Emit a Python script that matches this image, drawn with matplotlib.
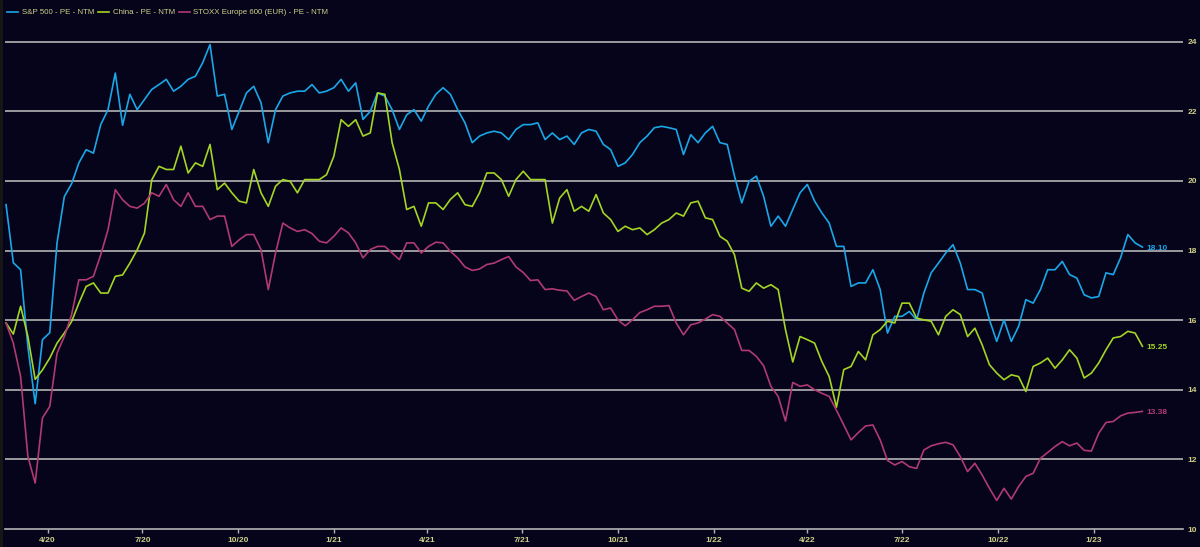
import numpy as np
import pandas as pd
import matplotlib
matplotlib.use('Agg')
import matplotlib.pyplot as plt
import matplotlib.dates as mdates
from matplotlib.patches import Rectangle

# weekly P/E (next twelve months)
dates = pd.date_range('2020-02-21', periods=157, freq='7D')

sp500 = [
    19.32, 17.65, 17.45, 15.24, 13.6, 15.44, 15.64, 18.22, 19.55, 19.92,
    20.52, 20.90, 20.80, 21.62, 22.05, 23.1, 21.6, 22.49, 22.05, 22.34,
    22.63, 22.77, 22.92, 22.58, 22.72, 22.92, 23.01, 23.4, 23.92, 22.44,
    22.49, 21.48, 22.0, 22.53, 22.72, 22.25, 21.1, 22.05, 22.44, 22.53,
    22.58, 22.58, 22.77, 22.53, 22.58, 22.68, 22.92, 22.58, 22.82, 21.77,
    22.0, 22.53, 22.44, 22.05, 21.48, 21.9, 22.05, 21.72, 22.15, 22.49,
    22.68, 22.49, 22.05, 21.67, 21.1, 21.29, 21.38, 21.43, 21.38, 21.19,
    21.48, 21.62, 21.62, 21.67, 21.19, 21.38, 21.19, 21.29, 21.05, 21.38,
    21.48, 21.43, 21.05, 20.9, 20.42, 20.52, 20.76, 21.1, 21.29, 21.53,
    21.57, 21.53, 21.48, 20.76, 21.33, 21.1, 21.38, 21.57, 21.1, 21.05,
    20.14, 19.37, 19.99, 20.14, 19.56, 18.7, 18.99, 18.7, 19.18, 19.66,
    19.9, 19.42, 19.08, 18.79, 18.12, 18.12, 16.97, 17.07, 17.07, 17.45,
    16.88, 15.63, 16.11, 16.11, 16.25, 16.01, 16.78, 17.36, 17.64, 17.93,
    18.17, 17.64, 16.88, 16.88, 16.78, 16.01, 15.39, 16.01, 15.39, 15.82,
    16.59, 16.49, 16.88, 17.45, 17.45, 17.69, 17.31, 17.21, 16.73, 16.64,
    16.68, 17.36, 17.31, 17.79, 18.46, 18.22, 18.10,
]

china = [
    15.92, 15.6, 16.4, 15.53, 14.3, 14.57, 14.91, 15.34, 15.63, 15.96,
    16.49, 16.97, 17.07, 16.78, 16.78, 17.26, 17.3, 17.64, 18.02, 18.5,
    20.03, 20.42, 20.33, 20.33, 21.0, 20.23, 20.52, 20.42, 21.05, 19.75,
    19.94, 19.66, 19.42, 19.37, 20.33, 19.66, 19.27, 19.85, 20.04, 19.99,
    19.66, 20.04, 20.04, 20.04, 20.18, 20.71, 21.76, 21.57, 21.76, 21.29,
    21.38, 22.53, 22.49, 21.1, 20.33, 19.18, 19.27, 18.7, 19.37, 19.37,
    19.18, 19.47, 19.66, 19.32, 19.27, 19.66, 20.23, 20.23, 20.04, 19.56,
    20.04, 20.28, 20.04, 20.04, 20.04, 18.79, 19.51, 19.75, 19.13, 19.27,
    19.13, 19.61, 19.08, 18.89, 18.55, 18.7, 18.6, 18.65, 18.46, 18.6,
    18.79, 18.89, 19.08, 18.99, 19.37, 19.42, 18.94, 18.89, 18.41, 18.27,
    17.88, 16.92, 16.83, 17.07, 16.92, 17.02, 16.88, 15.73, 14.8, 15.53,
    15.44, 15.34, 14.81, 14.38, 13.5, 14.58, 14.67, 15.1, 14.86, 15.58,
    15.73, 15.97, 15.92, 16.49, 16.49, 16.06, 16.01, 15.97, 15.58, 16.11,
    16.3, 16.16, 15.53, 15.77, 15.29, 14.72, 14.48, 14.29, 14.43, 14.38,
    13.95, 14.67, 14.77, 14.91, 14.62, 14.86, 15.15, 14.91, 14.34, 14.48,
    14.77, 15.15, 15.49, 15.53, 15.68, 15.63, 15.25,
]

stoxx600 = [
    15.92, 15.34, 14.38, 12.08, 11.32, 13.19, 13.52, 15.05, 15.53, 16.16,
    17.16, 17.16, 17.26, 17.88, 18.6, 19.75, 19.46, 19.27, 19.22, 19.36,
    19.66, 19.56, 19.9, 19.46, 19.27, 19.66, 19.27, 19.27, 18.89, 18.99,
    18.99, 18.12, 18.31, 18.46, 18.46, 18.03, 16.88, 17.93, 18.79, 18.65,
    18.55, 18.6, 18.49, 18.27, 18.22, 18.41, 18.65, 18.51, 18.22, 17.79,
    18.03, 18.12, 18.12, 17.93, 17.74, 18.22, 18.22, 17.93, 18.12, 18.24,
    18.22, 17.98, 17.79, 17.53, 17.43, 17.47, 17.6, 17.64, 17.74, 17.83,
    17.53, 17.37, 17.14, 17.16, 16.88, 16.9, 16.86, 16.84, 16.57, 16.68,
    16.78, 16.68, 16.3, 16.35, 16.01, 15.84, 16.01, 16.22, 16.3, 16.4,
    16.4, 16.42, 15.92, 15.58, 15.87, 15.92, 16.03, 16.16, 16.11, 15.92,
    15.73, 15.13, 15.13, 14.96, 14.69, 14.1, 13.81, 13.1, 14.21, 14.1,
    14.14, 14.0, 13.9, 13.81, 13.41, 12.99, 12.56, 12.77, 12.96, 12.99,
    12.56, 11.97, 11.84, 11.94, 11.79, 11.74, 12.27, 12.39, 12.45, 12.49,
    12.42, 12.08, 11.65, 11.89, 11.55, 11.17, 10.82, 11.17, 10.86, 11.22,
    11.51, 11.6, 12.03, 12.2, 12.37, 12.51, 12.39, 12.47, 12.26, 12.24,
    12.75, 13.06, 13.09, 13.25, 13.33, 13.35, 13.38,
]

series_names = ['S&P 500 - PE - NTM', 'China - PE - NTM', 'STOXX Europe 600 (EUR) - PE - NTM']
series_colors = ['#1aa7e8', '#a4d424', '#b03a72']

y_ticks = [10, 12, 14, 16, 18, 20, 22, 24]

bg = '#05041a'
txt = '#cfd08a'
grid = '#b4b4b4'

plt.rcParams['font.family'] = ['Liberation Sans', 'DejaVu Sans']

fig = plt.figure(figsize=(12, 5.47), dpi=100, facecolor=bg)
fig.patches.append(Rectangle((0, 0), 3 / 1200, 1, transform=fig.transFigure,
                             facecolor='#161616', edgecolor='none'))
ax = fig.add_axes([5 / 1200, 18 / 547, 1178 / 1200, 529 / 547])
ax.set_facecolor(bg)

for vals, name, col in zip([sp500, china, stoxx600], series_names, series_colors):
    ax.plot(dates, vals, color=col, lw=1.2, label=name)
    ax.annotate('%.2f' % vals[-1], xy=(dates[-1], vals[-1]), xytext=(3, -1),
                textcoords='offset points', color=col, fontsize=6.0,
                fontweight='bold', va='center', ha='left')

ax.set_ylim(10, 25.2)
ax.set_xlim(pd.Timestamp('2020-02-20'), pd.Timestamp('2023-03-28'))

for y in y_ticks[1:]:
    ax.axhline(y, color=grid, lw=1.2, zorder=0)

ax.yaxis.tick_right()
ax.set_yticks(y_ticks)
ax.tick_params(axis='y', length=0, pad=3, labelsize=6.0, labelcolor=txt)

ax.xaxis.set_major_locator(mdates.MonthLocator(bymonth=[1, 4, 7, 10]))
ax.xaxis.set_major_formatter(
    matplotlib.ticker.FuncFormatter(lambda v, p: '%d/%s' % (mdates.num2date(v).month,
                                                          mdates.num2date(v).strftime('%y'))))
ax.tick_params(axis='x', length=3, width=1, color=grid, pad=3, labelsize=6.0,
               labelcolor=txt)
for lab in ax.get_xticklabels() + ax.get_yticklabels():
    lab.set_fontweight('bold')

for s in ['top', 'left', 'right']:
    ax.spines[s].set_visible(False)
ax.spines['bottom'].set_color(grid)
ax.spines['bottom'].set_linewidth(1.2)

leg = fig.legend(loc='upper left', bbox_to_anchor=(0.0, 0.997), ncol=3,
                 frameon=False, fontsize=5.7, handlelength=1.4,
                 handletextpad=0.45, columnspacing=0.5)
for t in leg.get_texts():
    t.set_color(txt)

fig.savefig('out.png', dpi=100, facecolor=bg)
